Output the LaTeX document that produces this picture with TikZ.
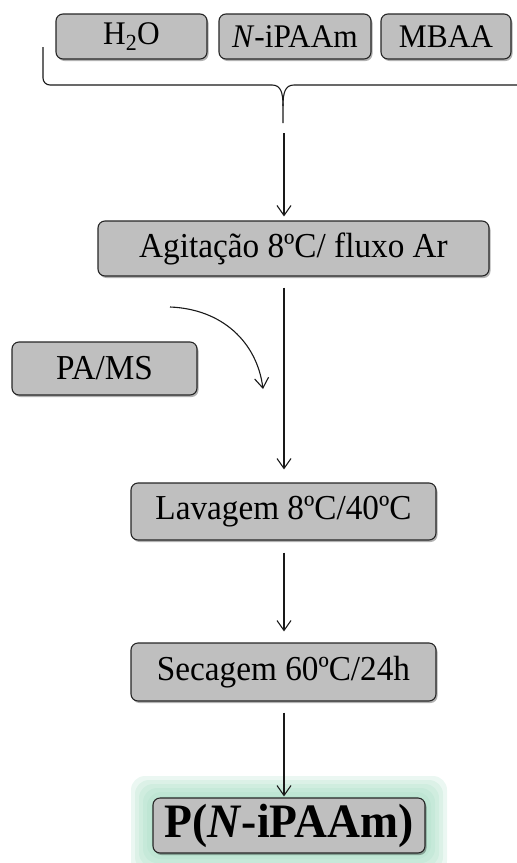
\documentclass[tikz,border=0pt]{standalone}
\usepackage{fontspec}
\setmainfont{Liberation Serif}[FakeStretch=0.95]
\usetikzlibrary{arrows.meta,shadows}
\definecolor{BoxGray}{RGB}{191,191,191}
\definecolor{GlowGreen}{RGB}{165,220,195}
\tikzset{
  stepbox/.style={draw=black!85,rounded corners=7pt,fill=BoxGray,
    line width=1.1pt,inner sep=0pt,align=center,
    font=\fontsize{35}{40}\selectfont,
    drop shadow={shadow xshift=1.5pt,shadow yshift=-2pt,opacity=.3,fill=black}},
  topbox/.style={stepbox,minimum height=45pt,font=\fontsize{33}{38}\selectfont},
  finalbox/.style={stepbox,minimum width=272pt,minimum height=55pt,
    font=\fontsize{48}{52}\selectfont\bfseries},
  flow/.style={-{Straight Barb[length=10pt,width=14pt]},line width=1.1pt,black!90},
  brace/.style={line width=1.1pt,black!90}
}
\begin{document}
\begin{tikzpicture}[x=1pt,y=-1pt]
  \useasboundingbox (0,0) rectangle (517,863);
  \coordinate (spine) at (284,0);
  \node[topbox,minimum width=151pt] (water) at (131.5,36.5) {H\textsubscript{2}O};
  \node[topbox,minimum width=152pt] (monomer) at (295,36.5) {\textit{N}-iPAAm};
  \node[topbox,minimum width=130pt] (mbaa) at (446,36.5) {MBAA};
  \node[stepbox,minimum width=391pt,minimum height=55pt] (agit) at (293.5,248.5)
    {Agitação 8ºC/ fluxo Ar};
  \node[stepbox,minimum width=185pt,minimum height=53pt] (pams) at (104.5,368.5) {PA/MS};
  \node[stepbox,minimum width=305pt,minimum height=57pt] (lav) at (283.5,511.5)
    {Lavagem 8ºC/40ºC};
  \node[stepbox,minimum width=305pt,minimum height=58pt] (sec) at (283.5,672)
    {Secagem 60ºC/24h};
  \foreach \r in {22,18,14,10,6,2}
    \fill[GlowGreen,opacity=.22,rounded corners=14pt]
      (153-\r,798-\r) rectangle (425+\r,853+\r);
  \node[finalbox] (final) at (289,825.5) {P(\textit{N}-iPAAm)};
  \draw[brace,rounded corners=7pt] (43,47) -- (43,85) -- (272,85);
  \draw[brace] (272,85) .. controls (281,85) and (283,93) .. (283,106) -- (283,123);
  \draw[brace] (517,85) -- (294,85) .. controls (285,85) and (283,93) .. (283,106);
  \coordinate (bracetip) at (284,123);
  \coordinate (pin) at (170,307);
  \coordinate (pout) at (263,389);
  \draw[flow,shorten <=10pt,shorten >=4pt] (bracetip) -- (agit.north -| spine);
  \draw[flow] (pin) .. controls (222,309) and (257,342) .. (pout);
  \draw[flow,shorten <=11pt,shorten >=13pt] (agit.south -| spine) -- (lav.north -| spine);
  \draw[flow,shorten <=12pt,shorten >=11pt] (lav.south -| spine) -- (sec.north -| spine);
  \draw[flow,shorten <=11pt,shorten >=1pt] (sec.south -| spine) -- (final.north -| spine);
\end{tikzpicture}
\end{document}
